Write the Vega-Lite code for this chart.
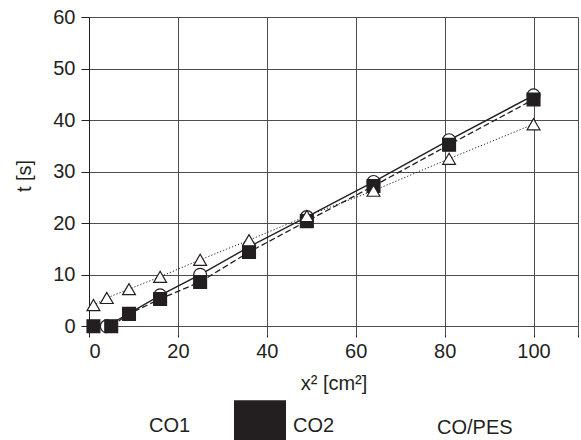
{
  "$schema": "https://vega.github.io/schema/vega-lite/v6.json",
  "width": 489,
  "height": 317,
  "autosize": "none",
  "padding": {"left": 89, "top": 17, "right": 3, "bottom": 106},
  "background": "white",
  "config": {
    "view": {"stroke": null},
    "font": "Liberation Sans",
    "axis": {
      "labelFont": "Liberation Sans",
      "labelFontSize": 20,
      "labelColor": "#231f20",
      "titleFont": "Liberation Sans",
      "titleFontSize": 20,
      "titleFontWeight": "normal",
      "titleColor": "#231f20",
      "gridColor": "#4d4d4d",
      "gridOpacity": 1,
      "gridWidth": 1,
      "domainColor": "#231f20",
      "domainWidth": 1,
      "tickColor": "#231f20",
      "tickWidth": 1
    }
  },
  "data": {
    "values": [
      {"series": "CO1", "x2": 4, "t": 0},
      {"series": "CO1", "x2": 16, "t": 6.0},
      {"series": "CO1", "x2": 25, "t": 10.0},
      {"series": "CO1", "x2": 36, "t": 15.4},
      {"series": "CO1", "x2": 49, "t": 21.2},
      {"series": "CO1", "x2": 64, "t": 28.0},
      {"series": "CO1", "x2": 81, "t": 36.1},
      {"series": "CO1", "x2": 100, "t": 44.8},
      {"series": "CO2", "x2": 1, "t": 0},
      {"series": "CO2", "x2": 5, "t": 0},
      {"series": "CO2", "x2": 9, "t": 2.4},
      {"series": "CO2", "x2": 16, "t": 5.3},
      {"series": "CO2", "x2": 25, "t": 8.6},
      {"series": "CO2", "x2": 36, "t": 14.4},
      {"series": "CO2", "x2": 49, "t": 20.4},
      {"series": "CO2", "x2": 64, "t": 27.2},
      {"series": "CO2", "x2": 81, "t": 35.2},
      {"series": "CO2", "x2": 100, "t": 44.0},
      {"series": "CO/PES", "x2": 1, "t": 4.1},
      {"series": "CO/PES", "x2": 4, "t": 5.5},
      {"series": "CO/PES", "x2": 9, "t": 7.2},
      {"series": "CO/PES", "x2": 16, "t": 9.6},
      {"series": "CO/PES", "x2": 25, "t": 12.9},
      {"series": "CO/PES", "x2": 36, "t": 16.7},
      {"series": "CO/PES", "x2": 49, "t": 21.4},
      {"series": "CO/PES", "x2": 64, "t": 26.3},
      {"series": "CO/PES", "x2": 81, "t": 32.5},
      {"series": "CO/PES", "x2": 100, "t": 39.2}
    ]
  },
  "encoding": {
    "x": {
      "field": "x2",
      "type": "quantitative",
      "scale": {"domain": [0, 110], "nice": false, "zero": false},
      "axis": {
        "title": "x² [cm²]",
        "values": [0, 20, 40, 60, 80, 100, 110],
        "labelExpr": "datum.value == 110 ? '' : datum.label",
        "grid": true,
        "domain": false,
        "tickSize": 3,
        "labelPadding": 4,
        "titlePadding": 12
      }
    },
    "y": {
      "field": "t",
      "type": "quantitative",
      "scale": {"domain": [-1.5, 60], "nice": false, "zero": false},
      "axis": {
        "title": "t [s]",
        "values": [0, 10, 20, 30, 40, 50, 60],
        "grid": true,
        "domain": true,
        "tickSize": 8,
        "labelPadding": 6,
        "titlePadding": 18
      }
    }
  },
  "layer": [
    {
      "transform": [{"filter": "datum.series === 'CO1'"}],
      "mark": {"type": "line", "color": "#231f20", "strokeWidth": 1.4},
      "encoding": {}
    },
    {
      "transform": [{"filter": "datum.series === 'CO2'"}],
      "mark": {"type": "line", "color": "#231f20", "strokeWidth": 1.3, "strokeDash": [6, 3]},
      "encoding": {}
    },
    {
      "transform": [{"filter": "datum.series === 'CO/PES'"}],
      "mark": {"type": "line", "color": "#231f20", "strokeWidth": 1.0, "strokeDash": [1.2, 2]},
      "encoding": {}
    },
    {
      "mark": {"type": "point", "filled": true, "stroke": "#231f20", "strokeWidth": 1.2, "opacity": 1, "size": 165},
      "encoding": {
        "fill": {
          "field": "series",
          "type": "nominal",
          "scale": {"domain": ["CO1", "CO2", "CO/PES"], "range": ["#ffffff", "#231f20", "#ffffff"]}
        },
        "shape": {
          "field": "series",
          "type": "nominal",
          "scale": {"domain": ["CO1", "CO2", "CO/PES"], "range": ["circle", "square", "triangle-up"]},
          "legend": {
            "title": null,
            "orient": "none",
            "legendX": 0,
            "legendY": 382,
            "direction": "horizontal",
            "padding": 0,
            "columnPadding": 40,
            "labelOffset": 6,
            "labelFont": "Liberation Sans",
            "labelFontSize": 20,
            "labelColor": "#231f20",
            "symbolSize": 2704,
            "symbolStrokeColor": "#231f20",
            "symbolStrokeWidth": 1.2,
            "encode": {
              "symbols": {
                "shape": {"value": {"expr": "datum.value === 'CO1' ? 'M-0.92,0H-0.155M0.155,0H0.92M-0.155,0A0.155,0.155,0,1,1,0.155,0A0.155,0.155,0,1,1,-0.155,0Z' : datum.value === 'CO2' ? 'M-1.04,0H-0.85M-0.73,0H-0.54M-0.42,0H-0.23M0.3,0H0.54M0.69,0H0.92M-0.19,-0.19H0.19V0.19H-0.19Z' : 'M-0.7,0.05H-0.65M-0.6,0.05H-0.55M-0.5,0.05H-0.45M-0.4,0.05H-0.35M-0.3,0.05H-0.25M0.25,0.05H0.3M0.35,0.05H0.4M0.45,0.05H0.5M0.55,0.05H0.6M0.65,0.05H0.7M0,-0.21L0.23,0.17L-0.23,0.17Z'"}},
                "fill": {"value": {"expr": "datum.value === 'CO2' ? '#231f20' : '#ffffff'"}},
                "stroke": {"value": "#231f20"},
                "strokeWidth": {"value": 1.2},
                "size": {"value": 2704},
                "opacity": {"value": 1}
              }
            }
          }
        }
      }
    }
  ]
}
